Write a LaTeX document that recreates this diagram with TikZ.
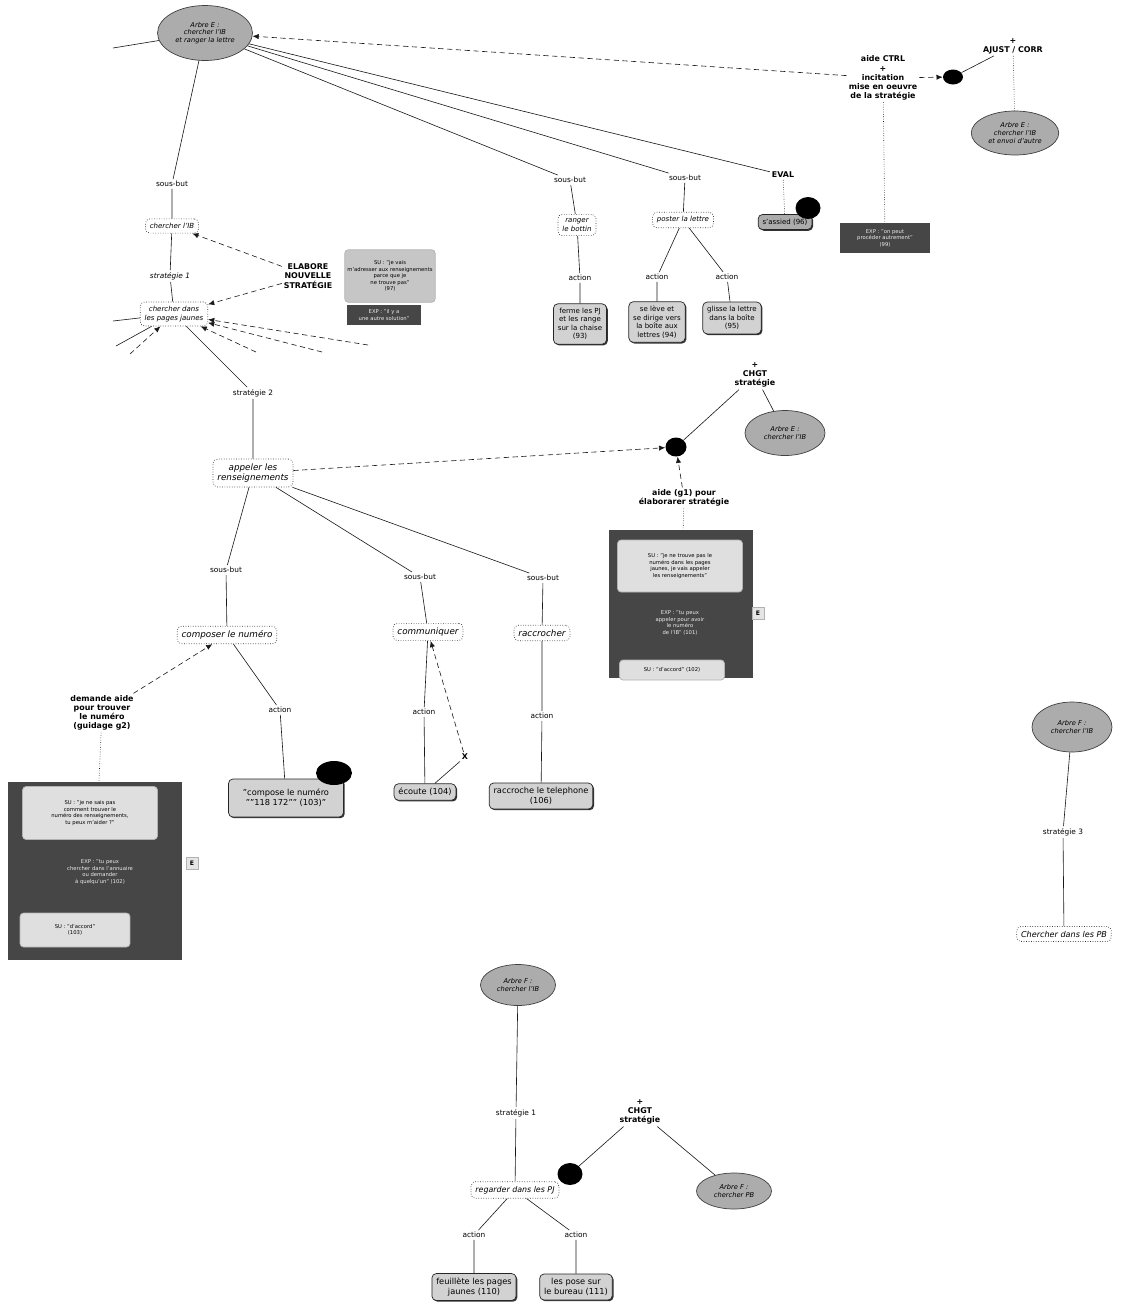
\documentclass[tikz,border=0pt]{standalone}
\usepackage{fontspec}
\setmainfont{DejaVu Sans}
\usetikzlibrary{shapes.geometric,arrows.meta,shadows}

\tikzset{
  every node/.style={font=\fontsize{4.2}{5}\selectfont, align=center},
  goal/.style={ellipse, draw=gray!50!black, fill=gray!65, font=\fontsize{3.8}{4.4}\selectfont\itshape, inner sep=0pt},
  task/.style={rounded corners=2.5pt, draw=gray!40!black, densely dotted, fill=white, font=\fontsize{5}{6}\selectfont\itshape, inner sep=2.5pt},
  small/.style={font=\fontsize{4}{4.8}\selectfont\itshape},
  act/.style={rounded corners=2.5pt, draw=gray!30!black, fill=gray!35, inner sep=2.5pt, font=\fontsize{4.7}{5.6}\selectfont,
    drop shadow={shadow xshift=0.7pt, shadow yshift=-0.7pt, fill=gray!40!black, opacity=1}},
  lbl/.style={inner sep=1pt},
  key/.style={font=\fontsize{4.5}{5.2}\selectfont\bfseries, inner sep=1pt},
  blob/.style={ellipse, fill=black, inner sep=0pt},
  dark/.style={fill=gray!55!black, text=gray!15, font=\fontsize{3}{3.7}\selectfont, inner sep=1.5pt},
  pale/.style={rounded corners=2pt, fill=gray!25, draw=gray!60, text=black, font=\fontsize{3}{3.7}\selectfont, inner sep=1.5pt},
  tag/.style={fill=gray!20, draw=gray!60, font=\fontsize{3.5}{4}\selectfont\bfseries, minimum size=0.24cm, inner sep=0pt},
  link/.style={gray!20!black, line width=0.35pt},
  hint/.style={gray!20!black, line width=0.35pt, densely dashed, -{Latex[length=3.5pt,width=3pt]}},
  tie/.style={gray!20!black, line width=0.35pt, densely dotted},
}

\begin{document}
\begin{tikzpicture}[x=0.02cm,y=-0.02cm]
\useasboundingbox (0,0) rectangle (1122,1306);

% arbre E
\node[goal, minimum width=1.9cm, minimum height=1.1cm] (E1) at (205,33) {Arbre E :\\chercher l'IB\\et ranger la lettre};
\coordinate (w1) at (113,48);
\draw[link] (E1) -- (w1);

\node[lbl] (sb1) at (172,184) {sous-but};
\node[task, small] (ib) at (172,226) {chercher l'IB};
\node[lbl, font=\fontsize{4.2}{5}\selectfont\itshape] (st1) at (170,276) {stratégie 1};
\node[task, small] (pj) at (174,314) {chercher dans\\les pages jaunes};
\draw[link] (E1) -- (sb1) -- (ib) -- (st1) -- (pj);

\node[key] (elab) at (308,276) {ELABORE\\NOUVELLE\\STRATÉGIE};
\draw[hint] (elab) -- (ib);
\draw[hint] (elab) -- (pj);
\node[pale, fill=gray!45, minimum width=1.8cm, minimum height=1.05cm] (su97) at (390,276) {SU : "je vais\\m'adresser aux renseignements\\parce que je\\ne trouve pas"\\(97)};
\node[dark, minimum width=1.5cm, minimum height=0.4cm] (exp97) at (384,315) {EXP : "il y a\\une autre solution"};

% bouts autour de pj
\coordinate (f1) at (113,321);
\coordinate (f2) at (116,346);
\coordinate (f3) at (130,354);
\coordinate (f5) at (256,352);
\coordinate (f6) at (322,352);
\coordinate (f7) at (368,345);
\draw[link] (pj) -- (f1);
\draw[link] (pj) -- (f2);
\draw[hint] (f3) -- (pj);
\draw[hint] (f5) -- (pj);
\draw[hint] (f6) -- (pj);
\draw[hint] (f7) -- (pj);

% autres sous-buts
\node[lbl] (sb2) at (570,180) {sous-but};
\node[task, small] (bot) at (577,225) {ranger\\le bottin};
\node[lbl] (ac1) at (580,278) {action};
\node[act, font=\fontsize{4}{4.8}\selectfont] (a93) at (580,324) {ferme les PJ\\et les range\\sur la chaise\\(93)};
\draw[link] (E1) -- (sb2) -- (bot) -- (ac1) -- (a93);

\node[lbl] (sb3) at (685,178) {sous-but};
\node[task, small] (let) at (683,220) {poster la lettre};
\node[lbl] (ac2) at (657,277) {action};
\node[lbl] (ac3) at (727,277) {action};
\node[act, font=\fontsize{4}{4.8}\selectfont] (a94) at (657,322) {se lève et\\se dirige vers\\la boîte aux\\lettres (94)};
\node[act, font=\fontsize{4}{4.8}\selectfont] (a95) at (732,318) {glisse la lettre\\dans la boîte\\(95)};
\draw[link] (E1) -- (sb3) -- (let);
\draw[link] (let) -- (ac2) -- (a94);
\draw[link] (let) -- (ac3) -- (a95);

\node[key] (eval) at (783,175) {EVAL};
\node[act, fill=gray!65, font=\fontsize{4}{4.8}\selectfont] (a96) at (785,222) {s'assied (96)};
\node[blob, minimum width=0.5cm, minimum height=0.44cm] (k96) at (808,208) {};
\draw[link] (E1) -- (eval);
\draw[tie] (eval) -- (a96);

% aide CTRL
\node[key] (ctrl) at (883,78) {aide CTRL\\+\\incitation\\mise en oeuvre\\de la stratégie};
\node[blob, minimum width=0.4cm, minimum height=0.3cm] (k1) at (953,77) {};
\node[key] (ajust) at (1013,46) {+\\AJUST / CORR};
\node[goal, minimum width=1.75cm, minimum height=0.88cm] (E2) at (1015,133) {Arbre E :\\chercher l'IB\\et envoi d'autre};
\node[dark, minimum width=1.8cm, minimum height=0.6cm] (n99) at (885,238) {EXP : "on peut\\procéder autrement"\\(99)};
\draw[hint] (ctrl) -- (E1);
\draw[hint] (ctrl) -- (k1);
\draw[link] (k1) -- (ajust);
\draw[tie] (ajust) -- (E2);
\draw[tie] (ctrl) -- (n99);

% stratégie 2
\node[lbl] (st2) at (253,393) {stratégie 2};
\node[task] (ren) at (253,473) {appeler les\\renseignements};
\draw[link] (pj) -- (st2) -- (ren);

\node[blob, minimum width=0.42cm, minimum height=0.38cm] (k2) at (676,447) {};
\node[key] (chg) at (755,375) {+\\CHGT\\stratégie};
\node[goal, minimum width=1.6cm, minimum height=0.9cm] (E3) at (785,433) {Arbre E :\\chercher l'IB};
\node[key] (g1) at (684,498) {aide (g1) pour\\élaborarer stratégie};
\draw[hint] (ren) -- (k2);
\draw[link] (k2) -- (chg) -- (E3);
\draw[hint] (g1) -- (k2);

\node[dark, minimum width=2.9cm, minimum height=2.95cm] (h1) at (681,604) {};
\node[pale, minimum width=2.5cm, minimum height=1.04cm] (h1a) at (680,566) {SU : "je ne trouve pas le\\numéro dans les pages\\jaunes, je vais appeler\\les renseignements"};
\node[dark, fill=none] (h1b) at (680,623) {EXP : "tu peux\\appeler pour avoir\\le numéro\\de l'IB" (101)};
\node[pale, minimum width=2.1cm, minimum height=0.4cm] (h1c) at (672,670) {SU : "d'accord" (102)};
\node[tag] (h1t) at (758,613) {E};
\draw[tie] (g1) -- (h1);

% sous-buts de appeler
\node[lbl] (sb4) at (226,570) {sous-but};
\node[task] (cn) at (227,635) {composer le numéro};
\node[lbl] (ac4) at (280,710) {action};
\node[act, minimum width=2.3cm, minimum height=0.76cm] (a103) at (286,798) {"compose le numéro\\""118 172"" (103)"};
\node[blob, minimum width=0.72cm, minimum height=0.48cm] (k103) at (334,773) {};
\draw[link] (ren) -- (sb4) -- (cn) -- (ac4) -- (a103);

\node[key] (dem) at (102,713) {demande aide\\pour trouver\\le numéro\\(guidage g2)};
\node[dark, minimum width=3.5cm, minimum height=3.55cm] (h2) at (95,871) {};
\node[pale, minimum width=2.7cm, minimum height=1.06cm] (h2a) at (90,813) {SU : "je ne sais pas\\comment trouver le\\numéro des renseignements,\\tu peux m'aider ?"};
\node[dark, fill=none] (h2b) at (100,872) {EXP : "tu peux\\chercher dans l'annuaire\\ou demander\\à quelqu'un" (102)};
\node[pale, minimum width=2.2cm, minimum height=0.68cm] (h2c) at (75,930) {SU : "d'accord"\\(103)};
\node[tag] (h2t) at (192,863) {E};
\draw[tie] (dem) -- (h2);
\draw[hint] (dem) -- (cn);

\node[lbl] (sb5) at (420,577) {sous-but};
\node[task] (cm) at (428,632) {communiquer};
\node[lbl] (ac5) at (424,712) {action};
\node[act] (a104) at (425,792) {écoute (104)};
\node[key] (xx) at (465,757) {X};
\draw[link] (ren) -- (sb5) -- (cm) -- (ac5) -- (a104);
\draw[link] (a104) -- (xx);
\draw[hint] (xx) -- (cm);

\node[lbl] (sb6) at (543,578) {sous-but};
\node[task] (rc) at (542,633) {raccrocher};
\node[lbl] (ac6) at (542,716) {action};
\node[act] (a106) at (541,796) {raccroche le telephone\\(106)};
\draw[link] (ren) -- (sb6) -- (rc) -- (ac6) -- (a106);

% arbre F
\node[goal, minimum width=1.6cm, minimum height=1cm] (F1) at (1072,727) {Arbre F :\\chercher l'IB};
\node[lbl] (st3) at (1063,832) {stratégie 3};
\node[task, font=\fontsize{4.6}{5.5}\selectfont\itshape] (pb) at (1064,934) {Chercher dans les PB};
\draw[link] (F1) -- (st3) -- (pb);

\node[goal, minimum width=1.5cm, minimum height=0.82cm] (F2) at (518,985) {Arbre F :\\chercher l'IB};
\node[lbl] (st1b) at (516,1113) {stratégie 1};
\node[task, font=\fontsize{4.5}{5.4}\selectfont\itshape] (pjb) at (515,1190) {regarder dans les PJ};
\node[blob, minimum width=0.5cm, minimum height=0.44cm] (k3) at (570,1174) {};
\node[key] (chg2) at (640,1112) {+\\CHGT\\stratégie};
\node[goal, minimum width=1.5cm, minimum height=0.72cm] (F3) at (734,1191) {Arbre F :\\chercher PB};
\draw[link] (F2) -- (st1b) -- (pjb);
\draw[link] (k3) -- (chg2) -- (F3);
\node[lbl] (ac7) at (474,1235) {action};
\node[lbl] (ac8) at (576,1235) {action};
\node[act] (a110) at (474,1287) {feuillète les pages\\jaunes (110)};
\node[act] (a111) at (576,1287) {les pose sur\\le bureau (111)};
\draw[link] (pjb) -- (ac7) -- (a110);
\draw[link] (pjb) -- (ac8) -- (a111);
\end{tikzpicture}
\end{document}
